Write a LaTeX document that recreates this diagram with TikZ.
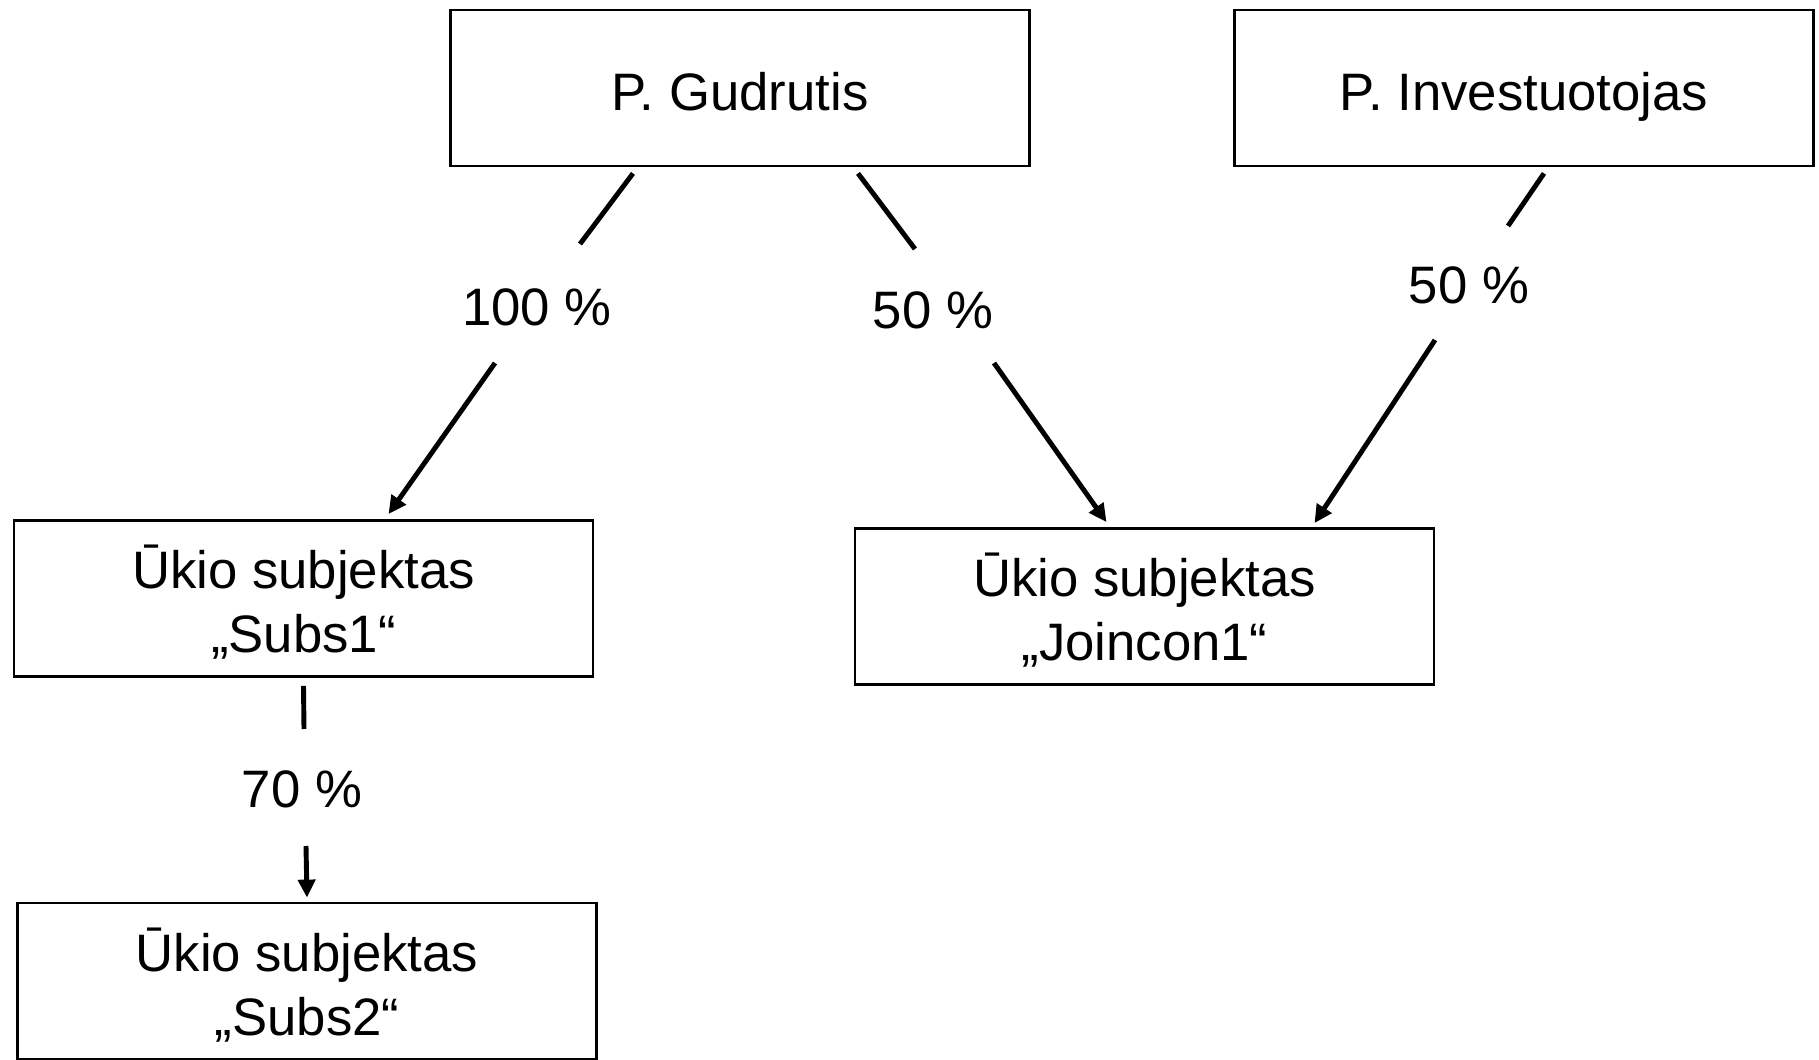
\documentclass[tikz,border=0pt]{standalone}
\usepackage{fontspec}
\setmainfont{Liberation Sans}
\usetikzlibrary{arrows.meta,calc}
\newcommand{\boxtxt}[1]{\raisebox{0pt}[\dimexpr\height+10.6pt\relax][\depth]{\begin{tabular}{@{}c@{}}#1\end{tabular}}}

\begin{document}
\begin{tikzpicture}[x=0.02cm, y=-0.02cm,
    box/.style={rectangle, draw, line width=1.6pt, minimum width=11.58cm, minimum height=3.12cm,
                inner sep=0pt, font=\fontsize{30}{36.5}\selectfont},
    pct/.style={font=\fontsize{30}{36.5}\selectfont},
    link/.style={line width=2.8pt},
    arr/.style={link, -{Triangle[length=0.36cm,width=0.34cm]}}]
	\useasboundingbox (0,0) rectangle (1819,1060);
	% Place nodes
	\node [box] (gud) at (740,88) {\boxtxt{P. Gudrutis}};
	\node [box] (inv) at (1524,88) {\boxtxt{P. Investuotojas}};
	\node [box] (subs1) at (303.5,598.5) {\boxtxt{Ūkio subjektas\\„Subs1“}};
	\node [box] (join) at (1144.5,606.5) {\boxtxt{Ūkio subjektas\\„Joincon1“}};
	\node [box] (subs2) at (307,981) {\boxtxt{Ūkio subjektas\\„Subs2“}};
	% Percentages
	\node [pct] (p100) at (537,307) {100 \%};
	\node [pct] (p50a) at (933,310) {50 \%};
	\node [pct] (p50b) at (1469,285) {50 \%};
	\node [pct] (p70) at (302,789) {70 \%};
	% Line breaks round the labels
	\coordinate (g1a) at (580,244); \coordinate (g1b) at (495,363);
	\coordinate (g2a) at (915,249); \coordinate (g2b) at (994,363);
	\coordinate (i1a) at (1508,226); \coordinate (i1b) at (1435,340);
	\coordinate (s1a) at (304,729); \coordinate (s1b) at (306,846);
	% Connectors
	\draw [link] ($(gud.south)+(-107,6)$) -- (g1a);
	\draw [arr] (g1b) -- ($(subs1.north)+(85,-5)$);
	\draw [link] ($(gud.south)+(118,6)$) -- (g2a);
	\draw [arr] (g2b) -- ($(join.north)+(-38,-5)$);
	\draw [link] ($(inv.south)+(20,6)$) -- (i1a);
	\draw [arr] (i1b) -- ($(join.north)+(170,-4)$);
	\draw [link] ($(subs1.south)+(0,8)$) -- (s1a);
	\draw [arr] (s1b) -- ($(subs2.north)+(0,-4)$);
\end{tikzpicture}
\end{document}
